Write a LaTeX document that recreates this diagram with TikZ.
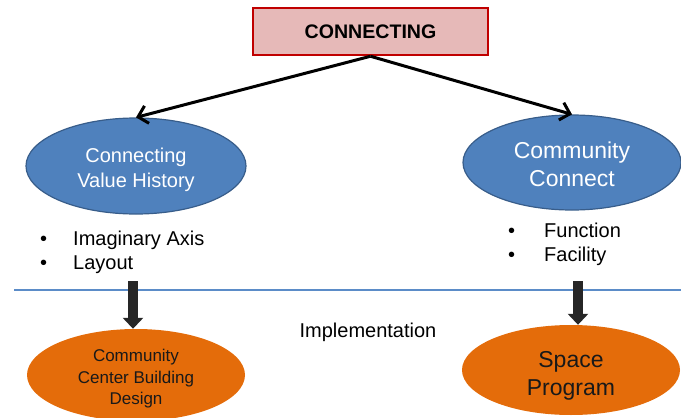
\documentclass[tikz,border=0pt]{standalone}
\usepackage{fontspec}
\setmainfont{Liberation Sans}
\usetikzlibrary{arrows.meta,shapes.geometric}
\definecolor{boxfill}{HTML}{E6B9B8}
\definecolor{boxline}{HTML}{C00000}
\definecolor{bluefill}{HTML}{4F81BD}
\definecolor{blueline}{HTML}{385D8A}
\definecolor{orangefill}{HTML}{E46C0A}
\definecolor{blockarrow}{HTML}{262626}
\definecolor{sepline}{HTML}{5B8CC8}
\tikzset{
  topbox/.style={draw=boxline, fill=boxfill, line width=2.5pt, minimum width=235pt, minimum height=47pt, inner sep=0pt, font=\bfseries\fontsize{19.6}{23}\selectfont},
  blueell/.style={ellipse, draw=blueline, fill=bluefill, line width=1.2pt, inner sep=0pt, minimum width=220pt, minimum height=96pt},
  orangeell/.style={ellipse, fill=orangefill, inner sep=0pt, minimum width=218pt, minimum height=92pt},
  ltext/.style={inner sep=0pt, align=center, text=white},
  otext/.style={inner sep=0pt, align=center, text=black!90},
  linkarrow/.style={line width=3pt, -{Straight Barb[length=9pt,width=18pt]}},
  blockarr/.style={draw=blockarrow, line width=10pt, -{Triangle[length=11pt,width=20pt]}},
  bulletnode/.style={anchor=base west, inner sep=0pt, font=\fontsize{20}{24}\selectfont},
}
\begin{document}
\begin{tikzpicture}[x=1pt,y=-1pt]
\useasboundingbox (0,0) rectangle (681,418);
% separator line
\coordinate (sl) at (14,290);
\coordinate (sr) at (681,290);
\draw[sepline, line width=1.8pt] (sl) -- (sr);
% top box
\node[topbox] (top) at (370.5,31.5) {CONNECTING};
% blue ellipses
\node[blueell] (cvh) at (136,166) {};
\node[ltext, font=\fontsize{20}{25}\selectfont] (cvht) at ([yshift=-4pt]cvh.center) {Connecting\\Value History};
\node[blueell, minimum width=218pt, minimum height=95pt] (cc) at (572,162.5) {};
\node[ltext, font=\fontsize{23}{28}\selectfont] (cct) at ([yshift=-2pt]cc.center) {Community\\Connect};
% arrows from top box
\draw[linkarrow] (top.south) -- (cvh.north);
\draw[linkarrow] (top.south) -- (cc.north);
% bullets left
\node[bulletnode] (lb1) at (40,245) {•};
\node[bulletnode] (lt1) at (73,245) {Imaginary Axis};
\node[bulletnode] (lb2) at (40,269) {•};
\node[bulletnode] (lt2) at (73,269) {Layout};
% bullets right
\node[bulletnode] (rb1) at (508,237) {•};
\node[bulletnode] (rt1) at (544,237) {Function};
\node[bulletnode] (rb2) at (508,261) {•};
\node[bulletnode] (rt2) at (544,261) {Facility};
% implementation label
\node[anchor=base, inner sep=0pt, font=\fontsize{20}{24}\selectfont] (impl) at (368,337) {Implementation};
% orange ellipses
\node[orangeell] (ccbd) at (136,375) {};
\node[otext, font=\fontsize{17}{21.5}\selectfont] (ccbdt) at ([yshift=-4pt]ccbd.center) {Community\\Center Building\\Design};
\node[orangeell, minimum height=90pt] (sp) at (571,370) {};
\node[otext, font=\fontsize{23}{28}\selectfont] (spt) at ([yshift=-6pt]sp.center) {Space\\Program};
% block arrows
\coordinate (la) at (133,281);
\coordinate (ra) at (578,281);
\draw[blockarr] (la) -- (la |- ccbd.north);
\draw[blockarr] (ra) -- (ra |- sp.north);
\end{tikzpicture}
\end{document}
